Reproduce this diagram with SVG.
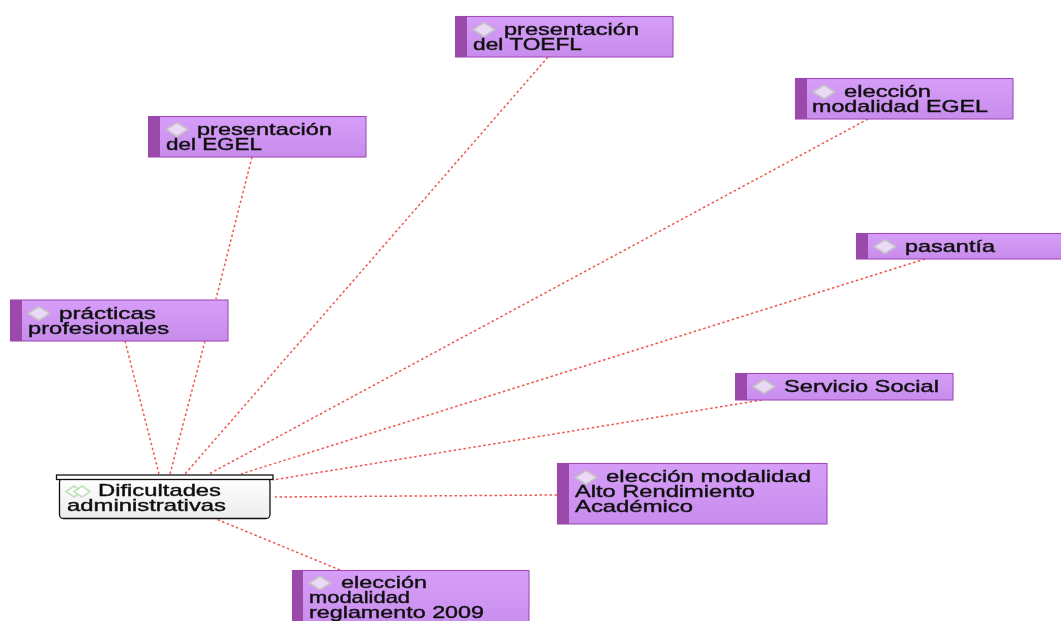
<svg xmlns="http://www.w3.org/2000/svg" width="1061" height="621" viewBox="0 0 1061 621">
<style>
text{font-family:"Liberation Sans",Arial,sans-serif;font-size:17px;fill:#111;stroke:#111;stroke-width:.4;}
.box{fill:url(#pg);stroke:#a24cb8;stroke-width:1.1;}
.bar{fill:#9c48ac;}
.dia{fill:#ecd9f8;stroke:#c4c0c4;stroke-width:1.6;}
.con{stroke:#f2554e;stroke-width:1.5;stroke-dasharray:2.5 2.5;fill:none;}
</style>
<defs>
<linearGradient id="pg" x1="0" y1="0" x2="0" y2="1"><stop offset="0" stop-color="#d69ef8"/><stop offset="1" stop-color="#c88cec"/></linearGradient>
<linearGradient id="wg" x1="0" y1="0" x2="0" y2="1"><stop offset="0" stop-color="#ffffff"/><stop offset="1" stop-color="#ececec"/></linearGradient>
<polygon id="d" class="dia" points="-11,0 0,-7 11,0 0,7"/>
<filter id="soft" x="-2%" y="-2%" width="104%" height="104%"><feGaussianBlur stdDeviation="0.4"/></filter>
</defs>
<rect width="1061" height="621" fill="#fff"/>
<g filter="url(#soft)">
<g id="connectors">
<line class="con" x1="125" y1="341" x2="159" y2="474"/>
<line class="con" x1="252" y1="157" x2="216" y2="299"/>
<line class="con" x1="205" y1="341" x2="170" y2="474"/>
<line class="con" x1="548" y1="57" x2="185" y2="474"/>
<line class="con" x1="868" y1="119" x2="209" y2="474"/>
<line class="con" x1="925" y1="259" x2="241" y2="474"/>
<line class="con" x1="762" y1="400" x2="273" y2="480"/>
<line class="con" x1="557" y1="495" x2="275" y2="497"/>
<line class="con" x1="340" y1="570" x2="216" y2="519"/>
</g>
<g id="n-toefl">
<rect class="box" x="455.500" y="16.500" width="217.500" height="40.500"/><rect class="bar" x="455" y="16" width="12" height="41"/>
<use href="#d" x="484" y="29.500"/>
<text x="504" y="35" textLength="135" lengthAdjust="spacingAndGlyphs">presentación</text>
<text x="473" y="50" textLength="109" lengthAdjust="spacingAndGlyphs">del TOEFL</text>
</g>
<g id="n-egel">
<rect class="box" x="148.500" y="116.500" width="217.500" height="40.500"/><rect class="bar" x="148" y="116" width="12" height="41"/>
<use href="#d" x="177" y="129.500"/>
<text x="197" y="135" textLength="135" lengthAdjust="spacingAndGlyphs">presentación</text>
<text x="166" y="150" textLength="96" lengthAdjust="spacingAndGlyphs">del EGEL</text>
</g>
<g id="n-modegel">
<rect class="box" x="795.500" y="78.500" width="217.500" height="40.500"/><rect class="bar" x="795" y="78" width="12" height="41"/>
<use href="#d" x="824" y="92"/>
<text x="844" y="97" textLength="87" lengthAdjust="spacingAndGlyphs">elección</text>
<text x="812" y="112" textLength="176" lengthAdjust="spacingAndGlyphs">modalidad EGEL</text>
</g>
<g id="n-pasantia">
<rect class="box" x="856.500" y="233.500" width="205" height="25.500"/><rect class="bar" x="856" y="233" width="12" height="26"/>
<use href="#d" x="885" y="246.500"/>
<text x="905" y="252" textLength="90" lengthAdjust="spacingAndGlyphs">pasantía</text>
</g>
<g id="n-practicas">
<rect class="box" x="10.500" y="300" width="217.500" height="41"/><rect class="bar" x="10" y="300" width="12" height="41"/>
<use href="#d" x="39" y="313.500"/>
<text x="59" y="319" textLength="97" lengthAdjust="spacingAndGlyphs">prácticas</text>
<text x="28" y="334" textLength="141" lengthAdjust="spacingAndGlyphs">profesionales</text>
</g>
<g id="n-servicio">
<rect class="box" x="735.500" y="373.500" width="217.500" height="26.500"/><rect class="bar" x="735" y="373" width="12" height="27"/>
<use href="#d" x="764" y="386.500"/>
<text x="784" y="392" textLength="155" lengthAdjust="spacingAndGlyphs">Servicio Social</text>
</g>
<g id="n-alto">
<rect class="box" x="557.500" y="463.500" width="269.500" height="60.500"/><rect class="bar" x="557" y="463" width="12" height="61"/>
<use href="#d" x="586" y="477.500"/>
<text x="606" y="482" textLength="205" lengthAdjust="spacingAndGlyphs">elección modalidad</text>
<text x="575" y="497" textLength="180" lengthAdjust="spacingAndGlyphs">Alto Rendimiento</text>
<text x="575" y="512" textLength="118" lengthAdjust="spacingAndGlyphs">Académico</text>
</g>
<g id="n-reglamento">
<rect class="box" x="292.500" y="570.500" width="236.500" height="60"/><rect class="bar" x="292" y="570" width="11" height="60"/>
<use href="#d" x="320" y="583"/>
<text x="341" y="588" textLength="86" lengthAdjust="spacingAndGlyphs">elección</text>
<text x="309" y="603" textLength="101" lengthAdjust="spacingAndGlyphs">modalidad</text>
<text x="309" y="618" textLength="175" lengthAdjust="spacingAndGlyphs">reglamento 2009</text>
</g>
<g id="n-dificultades">
<rect x="59.500" y="478" width="210.500" height="40.500" rx="4" fill="url(#wg)" stroke="#111" stroke-width="1.3"/>
<rect x="56.500" y="475" width="216.500" height="4.500" fill="#fff" stroke="#111" stroke-width="1.3"/>
<polygon points="66,491.500 74,486 82,491.500 74,497" fill="#fff" stroke="#bfe0b8" stroke-width="1.6"/>
<polygon points="74,491.500 82,486 90,491.500 82,497" fill="#fff" stroke="#bfe0b8" stroke-width="1.6"/>
<text x="98" y="496" textLength="123" lengthAdjust="spacingAndGlyphs">Dificultades</text>
<text x="67" y="511" textLength="159" lengthAdjust="spacingAndGlyphs">administrativas</text>
</g>
</g>
</svg>
